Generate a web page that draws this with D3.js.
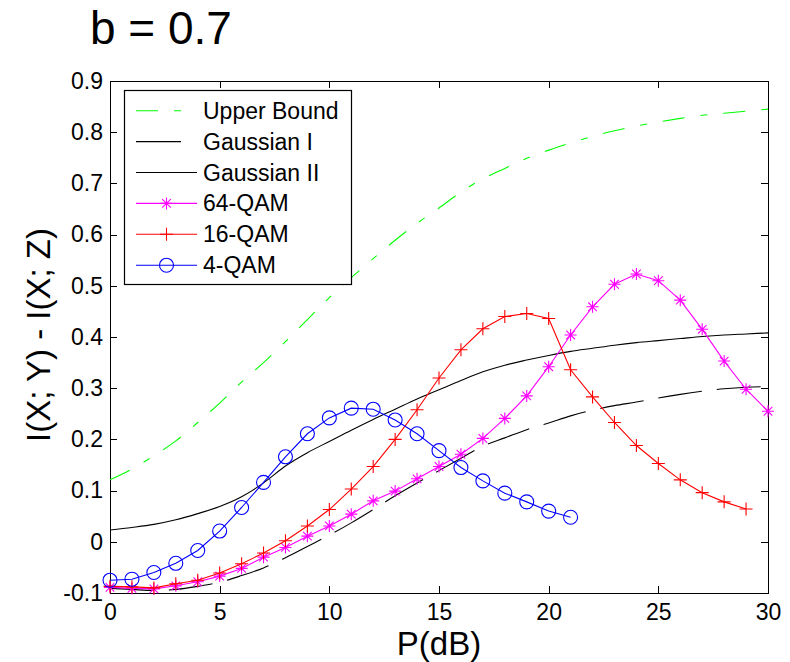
<!DOCTYPE html>
<meta charset="utf-8">
<body style="margin:0;background:#fff">
<style>
text { font-family: "Liberation Sans", Arial, sans-serif; fill: #000; }
.axis path, .axis line { stroke: #000; stroke-width: 1px; shape-rendering: crispEdges; }
.axis text { font-size: 23px; }
.curve { fill: none; stroke-width: 1.1px; }
</style>
<script src="https://cdn.jsdelivr.net/npm/d3@7"></script>
<script>

var xTicks = [0, 5, 10, 15, 20, 25, 30];
var yTicks = [-0.1, 0, 0.1, 0.2, 0.3, 0.4, 0.5, 0.6, 0.7, 0.8, 0.9];

// P(dB) for the smooth curves
var pAll = [0,1,2,3,4,5,6,7,8,9,10,11,12,13,14,15,16,17,18,19,20,21,22,23,24,25,26,27,28,29,30];

var upperBound = [0.121,0.142,0.168,0.197,0.233,0.271,0.312,0.350,0.391,0.434,0.477,0.516,0.553,0.589,0.622,
                  0.652,0.683,0.709,0.729,0.749,0.765,0.779,0.792,0.803,0.812,0.820,0.827,0.833,0.837,0.841,0.845];
var gaussI = [-0.091,-0.093,-0.095,-0.093,-0.087,-0.079,-0.066,-0.051,-0.031,-0.009,0.013,0.037,0.063,0.090,0.115,
              0.139,0.163,0.187,0.203,0.219,0.232,0.246,0.257,0.266,0.273,0.281,0.288,0.294,0.299,0.302,0.303];
var gaussII = [0.023,0.028,0.034,0.043,0.055,0.069,0.088,0.115,0.148,0.174,0.196,0.218,0.239,0.259,0.279,
               0.297,0.315,0.332,0.345,0.355,0.364,0.372,0.378,0.384,0.389,0.393,0.397,0.401,0.404,0.406,0.408];

var qam64 = [-0.089,-0.091,-0.092,-0.086,-0.078,-0.067,-0.052,-0.030,-0.011,0.011,0.031,0.054,0.080,0.099,0.123,
             0.147,0.171,0.202,0.241,0.285,0.342,0.404,0.459,0.503,0.523,0.510,0.472,0.415,0.353,0.298,0.255];
var p16 = [0,1,2,3,4,5,6,7,8,9,10,11,12,13,14,15,16,17,18,19,20,21,22,23,24,25,26,27,28,29];
var qam16 = [-0.087,-0.088,-0.090,-0.082,-0.075,-0.061,-0.043,-0.022,0.002,0.031,0.063,0.103,0.147,0.200,0.258,
             0.320,0.375,0.416,0.440,0.446,0.436,0.336,0.283,0.233,0.188,0.153,0.121,0.096,0.078,0.064];
var p4 = [0,1,2,3,4,5,6,7,8,9,10,11,12,13,14,15,16,17,18,19,20,21];
var qam4 = [-0.075,-0.073,-0.060,-0.042,-0.017,0.021,0.067,0.116,0.166,0.211,0.242,0.261,0.259,0.238,0.211,
            0.178,0.145,0.119,0.095,0.078,0.060,0.048];

var legendNames = ["Upper Bound", "Gaussian I", "Gaussian II", "64-QAM", "16-QAM", "4-QAM"];

var svg = d3.select("body").append("svg")
    .attr("width", 790)
    .attr("height", 662);

var x = d3.scaleLinear().domain([0, 30]).range([110, 768]);
var y = d3.scaleLinear().domain([-0.1, 0.9]).range([593, 81]);

function zip(xs, ys) { return xs.map(function(v, i) { return [v, ys[i]]; }); }

var smooth = d3.line()
    .x(function(d) { return x(d[0]); })
    .y(function(d) { return y(d[1]); })
    .curve(d3.curveMonotoneX);
var straight = d3.line()
    .x(function(d) { return x(d[0]); })
    .y(function(d) { return y(d[1]); });

var series = [
  {name: "Upper Bound", data: zip(pAll, upperBound), color: "#00ff00", dash: "22,16,7,16", line: smooth},
  {name: "Gaussian I", data: zip(pAll, gaussI), color: "#000", dash: "44,15", line: smooth},
  {name: "Gaussian II", data: zip(pAll, gaussII), color: "#000", dash: null, line: smooth},
  {name: "64-QAM", data: zip(pAll, qam64), color: "#ff00ff", dash: null, line: straight, marker: "star"},
  {name: "16-QAM", data: zip(p16, qam16), color: "#ff0000", dash: null, line: straight, marker: "plus"},
  {name: "4-QAM", data: zip(p4, qam4), color: "#0000ff", dash: null, line: straight, marker: "circle"}
];

// axes, ticks pointing inward on all four sides
var fmt = function(d) { return String(+d.toFixed(1)); };
svg.append("g").attr("class", "axis")
    .attr("transform", "translate(0,593)")
    .call(d3.axisBottom(x).tickValues(xTicks).tickSizeInner(-7).tickSizeOuter(0).tickPadding(11));
svg.append("g").attr("class", "axis")
    .attr("transform", "translate(0,81)")
    .call(d3.axisTop(x).tickValues(xTicks).tickSizeInner(-7).tickSizeOuter(0).tickFormat(""));
svg.append("g").attr("class", "axis")
    .attr("transform", "translate(110,0)")
    .call(d3.axisLeft(y).tickValues(yTicks).tickSizeInner(-7).tickSizeOuter(0).tickPadding(7).tickFormat(fmt));
svg.append("g").attr("class", "axis")
    .attr("transform", "translate(768,0)")
    .call(d3.axisRight(y).tickValues(yTicks).tickSizeInner(-7).tickSizeOuter(0).tickFormat(""));
svg.selectAll(".axis text").attr("fill", "#000");

function markerPath(type) {
  if (type === "star") {
    var s = 6, a = 4.3;
    return "M" + (-s) + ",0L" + s + ",0M0," + (-s) + "L0," + s +
           "M" + (-a) + "," + (-a) + "L" + a + "," + a + "M" + (-a) + "," + a + "L" + a + "," + (-a);
  }
  if (type === "plus") {
    var p = 6.5;
    return "M" + (-p) + ",0L" + p + ",0M0," + (-p) + "L0," + p;
  }
  return d3.symbol(d3.symbolCircle, Math.PI * 49)();
}

var plot = svg.append("g");
series.forEach(function(s) {
  plot.append("path")
      .attr("class", "curve")
      .attr("d", s.line(s.data))
      .attr("stroke", s.color)
      .attr("stroke-dasharray", s.dash);
  if (s.marker) {
    plot.selectAll(null)
        .data(s.data)
      .enter().append("path")
        .attr("d", markerPath(s.marker))
        .attr("transform", function(d) { return "translate(" + x(d[0]) + "," + y(d[1]) + ")"; })
        .attr("fill", "none")
        .attr("stroke", s.color)
        .attr("stroke-width", 1.1);
  }
});

// legend
var leg = svg.append("g");
leg.append("rect")
    .attr("x", 124.5).attr("y", 90.5)
    .attr("width", 227).attr("height", 194)
    .attr("fill", "#fff").attr("stroke", "#000").attr("stroke-width", 1.2);
series.forEach(function(s, i) {
  var cy = 110.7 + i * 30.9;
  var len = s.name === "Gaussian I" ? 45 : 61;
  leg.append("line")
      .attr("x1", 136).attr("x2", 136 + len)
      .attr("y1", cy).attr("y2", cy)
      .attr("stroke", s.color).attr("stroke-width", 1.1)
      .attr("stroke-dasharray", s.name === "Gaussian I" ? null : s.dash);
  if (s.marker) {
    leg.append("path")
        .attr("d", markerPath(s.marker))
        .attr("transform", "translate(166.5," + cy + ")")
        .attr("fill", "none").attr("stroke", s.color).attr("stroke-width", 1.1);
  }
  leg.append("text")
      .attr("x", 203).attr("y", cy + 8)
      .style("font-size", "23px")
      .text(legendNames[i]);
});

// labels
svg.append("text")
    .attr("x", 90).attr("y", 44)
    .style("font-size", "46px")
    .text("b = 0.7");
svg.append("text")
    .attr("x", 439).attr("y", 655)
    .attr("text-anchor", "middle")
    .style("font-size", "33px")
    .text("P(dB)");
svg.append("text")
    .attr("transform", "translate(50,335) rotate(-90)")
    .attr("text-anchor", "middle")
    .style("font-size", "33px")
    .text("I(X; Y) - I(X; Z)");

</script>
